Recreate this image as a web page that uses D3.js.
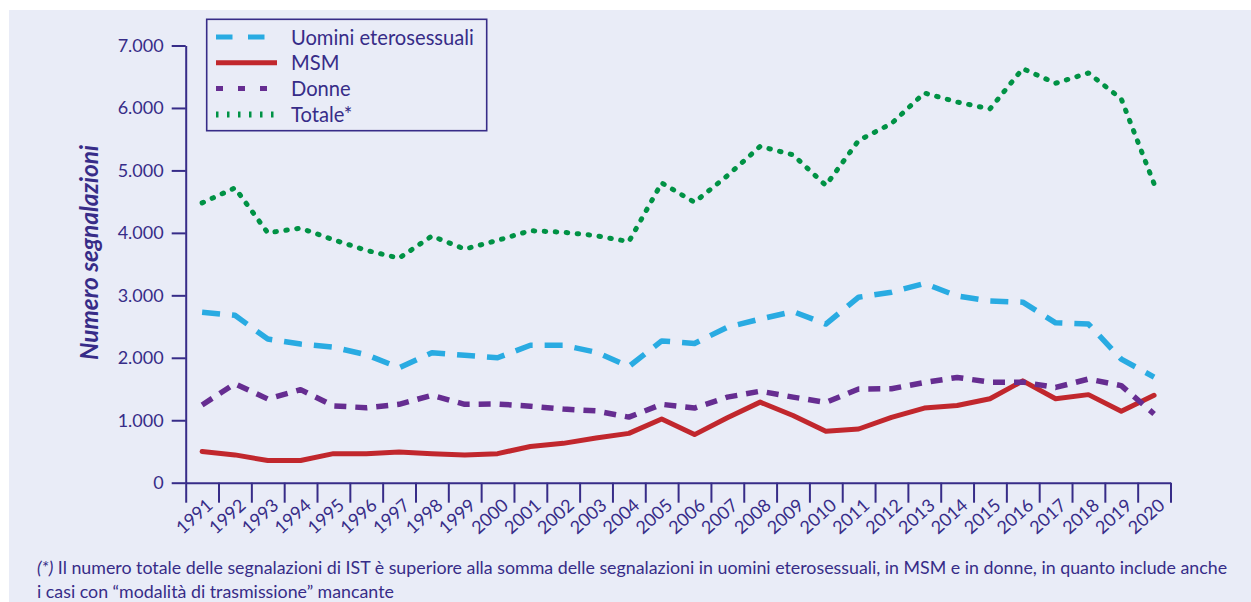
<!DOCTYPE html>
<html>
<head>
<meta charset="utf-8">
<script src="https://cdn.jsdelivr.net/npm/d3@7"></script>
<style>
  body { margin: 0; background: #fff; }
  svg { display: block; font-family: Lato, "Open Sans", sans-serif; }
</style>
</head>
<body>
<script>
// segnalazioni IST per anno
var years = d3.range(1991, 2021);
var uomini = [2730, 2680, 2300, 2220, 2170, 2050, 1840, 2080, 2040, 2000, 2200, 2200, 2090, 1860, 2270,
              2230, 2490, 2620, 2740, 2540, 2970, 3050, 3190, 2990, 2910, 2890, 2560, 2540, 1980, 1690];
var msm = [500, 445, 355, 355, 465, 465, 490, 465, 445, 465, 580, 630, 715, 790, 1020,
           770, 1040, 1290, 1075, 825, 860, 1045, 1195, 1235, 1345, 1630, 1345, 1410, 1145, 1400];
var donne = [1245, 1585, 1340, 1490, 1230, 1200, 1255, 1400, 1255, 1260, 1225, 1180, 1150, 1050, 1255,
             1195, 1370, 1465, 1370, 1285, 1500, 1505, 1605, 1685, 1610, 1610, 1525, 1660, 1555, 1100];
var totale = [4480, 4720, 4000, 4075, 3890, 3720, 3595, 3950, 3740, 3880, 4035, 4010, 3955, 3860, 4800,
              4490, 4915, 5385, 5250, 4760, 5480, 5750, 6240, 6095, 5985, 6630, 6395, 6560, 6145, 4785];
var yTicks = [0, 1000, 2000, 3000, 4000, 5000, 6000, 7000];
var seriesNames = ["Uomini eterosessuali", "MSM", "Donne", "Totale*"];

var ink = "#372c88";
var W = 1251, H = 602;

var series = [
  {name: seriesNames[0], values: uomini, color: "#29abe2", width: 5.5, dash: "18,12", cap: "butt",
   legDash: "16.5,15.5", legWidth: 5},
  {name: seriesNames[1], values: msm, color: "#c1272d", width: 5, dash: null, cap: "round",
   legDash: null, legWidth: 5},
  {name: seriesNames[2], values: donne, color: "#662d91", width: 5.5, dash: "12,9", cap: "butt",
   legDash: "7,15", legWidth: 5},
  {name: seriesNames[3], values: totale, color: "#009245", width: 5, dash: "1.5,9.5", cap: "round",
   legDash: "2.5,8.5", legWidth: 6}
];

var svg = d3.select("body").append("svg").attr("width", W).attr("height", H);

svg.append("rect").attr("x", 9).attr("y", 10).attr("width", W - 9).attr("height", H - 10)
  .attr("fill", "#e9ecf7");

var x0 = 185.7, x1 = 1170.5;
var x = d3.scaleBand().domain(years).range([x0, x1]);
var xEdge = d3.scaleLinear().domain([0, years.length]).range([x0, x1]);
var y = d3.scaleLinear().domain([0, 7000]).range([482.7, 45.5]);

function cx(yr) { return x(yr) + x.bandwidth() / 2; }

// y axis
var yAxis = d3.axisLeft(y).tickValues(yTicks).tickSize(14).tickPadding(8).tickSizeOuter(0)
  .tickFormat(function(d) { return d3.format(",")(d).replace(/,/g, "."); });
var gy = svg.append("g").attr("transform", "translate(" + x0 + ",0)").call(yAxis);
gy.select(".domain").attr("stroke", ink).attr("stroke-width", 2);
gy.selectAll(".tick line").attr("stroke", ink).attr("stroke-width", 2);
gy.selectAll(".tick text").attr("fill", ink).style("font-size", "18px").style("font-family", "Lato");

// x axis: ticks on band edges
var xAxis = d3.axisBottom(xEdge).tickValues(d3.range(years.length + 1)).tickSize(20)
  .tickFormat("").tickSizeOuter(0);
var gx = svg.append("g").attr("transform", "translate(0," + y(0) + ")").call(xAxis);
gx.select(".domain").attr("stroke", ink).attr("stroke-width", 2);
gx.selectAll(".tick line").attr("stroke", ink).attr("stroke-width", 2);

svg.append("g").selectAll("text").data(years).join("text")
  .attr("transform", function(d) { return "translate(" + (cx(d) + 12) + ",507) rotate(-42)"; })
  .attr("text-anchor", "end")
  .attr("fill", ink)
  .style("font-size", "18px")
  .text(function(d) { return d; });

// y title
var title = svg.append("text")
  .attr("transform", "translate(97.5,252.5) rotate(-90)")
  .attr("text-anchor", "middle")
  .attr("fill", ink)
  .style("font-weight", "bold").style("font-style", "italic")
  .style("font-size", "20px")
  .text("Numero segnalazioni");

function fit(sel, target) {
  var fs = parseFloat(sel.style("font-size"));
  var w = sel.node().getComputedTextLength();
  sel.style("font-size", (fs * target / w) + "px");
}
fit(title, 215);

// lines
var line = d3.line()
  .x(function(d, i) { return cx(years[i]); })
  .y(function(d) { return y(d); });

series.forEach(function(s) {
  svg.append("path")
    .attr("d", line(s.values))
    .attr("fill", "none")
    .attr("stroke", s.color)
    .attr("stroke-width", s.width)
    .attr("stroke-linecap", s.cap)
    .attr("stroke-linejoin", "round")
    .attr("stroke-dasharray", s.dash);
});

// legend
var leg = svg.append("g");
leg.append("rect").attr("x", 206.7).attr("y", 19.3).attr("width", 280).attr("height", 111.4)
  .attr("fill", "none").attr("stroke", ink).attr("stroke-width", 1.6);
series.forEach(function(s, i) {
  var ly = 37 + i * 25.8;
  leg.append("line").attr("x1", 216).attr("x2", 277).attr("y1", ly).attr("y2", ly)
    .attr("stroke", s.color).attr("stroke-width", s.legWidth)
    .attr("stroke-dasharray", s.legDash);
  var t = leg.append("text").attr("x", 291).attr("y", ly + 7.5)
    .attr("fill", ink).style("font-size", "19px").text(s.name);
  if (i === 0) fit(t, 183);
  if (i > 0) t.style("font-size", leg.select("text").style("font-size"));
});

// footnote
var note1 = svg.append("text").attr("x", 37).attr("y", 574).attr("fill", ink).style("font-size", "18px");
note1.append("tspan").style("font-style", "italic").text("(*)");
note1.append("tspan").text(" Il numero totale delle segnalazioni di IST è superiore alla somma delle segnalazioni in uomini eterosessuali, in MSM e in donne, in quanto include anche");
fit(note1, 1191);
svg.append("text").attr("x", 37).attr("y", 597.5).attr("fill", ink)
  .style("font-size", note1.style("font-size"))
  .text("i casi con “modalità di trasmissione” mancante");
</script>
</body>
</html>
